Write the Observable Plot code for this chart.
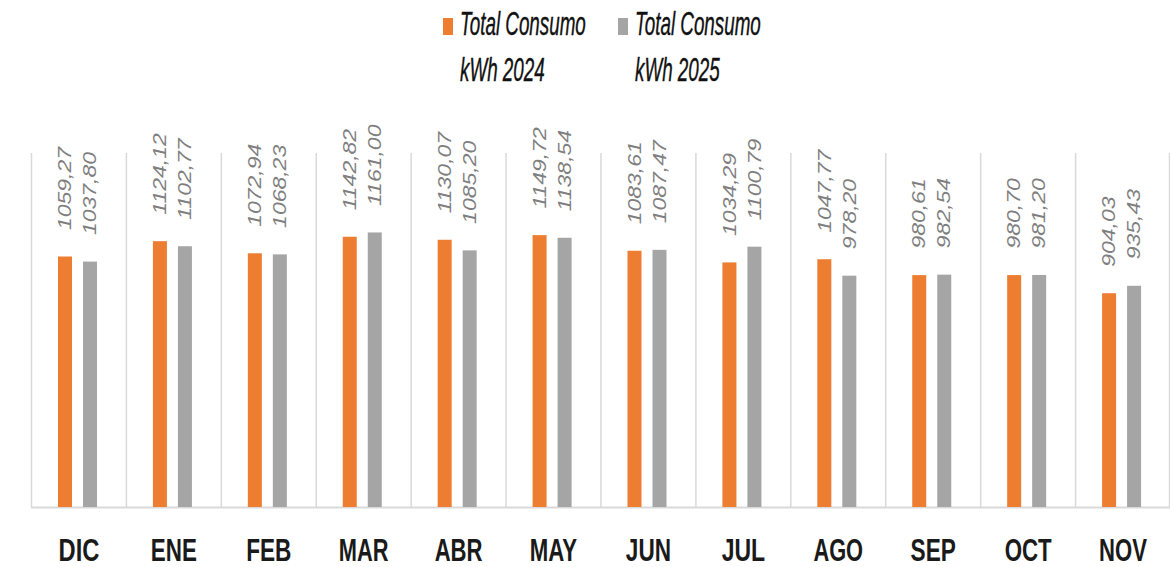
<!DOCTYPE html>
<html><head><meta charset="utf-8">
<script src="https://cdn.jsdelivr.net/npm/d3@7"></script>
<script src="https://cdn.jsdelivr.net/npm/@observablehq/plot@0.6"></script>
<style>
html,body{margin:0;padding:0;background:#fff;}
body{width:1170px;height:567px;overflow:hidden;}
#legend{position:relative;height:100px;width:1170px;}
.sw{position:absolute;width:10px;height:17px;top:18px;}
.lt{position:absolute;top:1px;font-family:"Liberation Sans",Arial,sans-serif;font-style:italic;font-size:33px;line-height:46px;color:#111;transform:scaleX(0.57);transform-origin:0 0;white-space:nowrap;-webkit-text-stroke:0.4px #111;}
#chart svg{display:block;}
</style></head><body>
<div id="legend"></div>
<div id="chart"></div>
<script>
const months = ["DIC","ENE","FEB","MAR","ABR","MAY","JUN","JUL","AGO","SEP","OCT","NOV"];
const consumo2024 = [1059.27,1124.12,1072.94,1142.82,1130.07,1149.72,1083.61,1034.29,1047.77,980.61,980.70,904.03];
const consumo2025 = [1037.80,1102.77,1068.23,1161.00,1085.20,1138.54,1087.47,1100.79,978.20,982.54,981.20,935.43];
const seriesNames = [["Total Consumo","kWh 2024"],["Total Consumo","kWh 2025"]];
const colors = ["#ED7D31","#A5A5A5"];

// legend
const legend = document.getElementById("legend");
const legendX = [443, 618];
seriesNames.forEach((lines,i)=>{
  const sw = document.createElement("div");
  sw.className="sw"; sw.style.left=legendX[i]+"px"; sw.style.background=colors[i];
  legend.appendChild(sw);
  const t = document.createElement("div");
  t.className="lt"; t.style.left=(legendX[i]+17)+"px";
  t.innerHTML = lines.join("<br>");
  legend.appendChild(t);
});

const data2024 = months.map((m,i)=>({month:m, value:consumo2024[i]}));
const data2025 = months.map((m,i)=>({month:m, value:consumo2025[i]}));
const fmt = v => d3.format(".2f")(v).replace(".", ",");

const W=1170, H=467, mT=53, mB=60, mL=31, mR=0;
const band = (W-mL-mR)/months.length;
const yTop = 1497;
const sep = {stroke:"#d9d9d9", strokeWidth:1.5, y1:0, y2:yTop};
const labelStyle = {rotate:-90, textAnchor:"start", lineAnchor:"middle", fill:"#7f7f7f", fontSize:23, fontStyle:"italic", fontFamily:"Liberation Sans, Arial, sans-serif", dy:-27};

const chart = Plot.plot({
  width:W, height:H, marginTop:mT, marginBottom:mB, marginLeft:mL, marginRight:mR,
  x:{domain:months, padding:0, round:false, axis:null},
  y:{domain:[0,yTop], axis:null},
  marks:[
    Plot.ruleX(months,{x:d=>d, dx:-band/2, ...sep}),
    Plot.ruleX(months.slice(-1),{x:d=>d, dx:band/2-1, ...sep}),
    Plot.ruleY([0],{stroke:"#d9d9d9", strokeWidth:2}),
    Plot.barY(data2024,{x:"month", y:"value", fill:colors[0], insetLeft:27, insetRight:band-41}),
    Plot.barY(data2025,{x:"month", y:"value", fill:colors[1], insetLeft:52, insetRight:band-66}),
    Plot.text(data2024,{x:"month", y:"value", text:d=>fmt(d.value), dx:34-band/2, ...labelStyle}),
    Plot.text(data2025,{x:"month", y:"value", text:d=>fmt(d.value), dx:59-band/2, ...labelStyle}),
    Plot.text(months,{x:d=>d, frameAnchor:"bottom", dy:53, lineAnchor:"bottom", text:d=>d, fontSize:31, fontWeight:"bold", fill:"#1a1a1a", fontFamily:"Liberation Sans, Arial, sans-serif"})
  ]
});
document.getElementById("chart").appendChild(chart);

function squishText(t, s){
  const tr = t.getAttribute("transform");
  if (tr && tr.includes("translate(")) {
    t.setAttribute("transform", tr.replace(/translate\([^)]*\)/, m => m + ` scale(${s},1)`));
  }
}
chart.querySelectorAll("text").forEach(t=>{
  const c = t.textContent.trim();
  if (months.includes(c)) {
    const L = t.getComputedTextLength();
    const nl = L*0.52 + 13;
    t.setAttribute("textLength", nl.toFixed(1));
    t.setAttribute("lengthAdjust", "spacingAndGlyphs");
    t.setAttribute("text-anchor", "start");
    t.setAttribute("x", (-nl/2).toFixed(1));
  }
  else if (c.includes(",")) squishText(t, 0.78);
});
</script>
</body></html>
